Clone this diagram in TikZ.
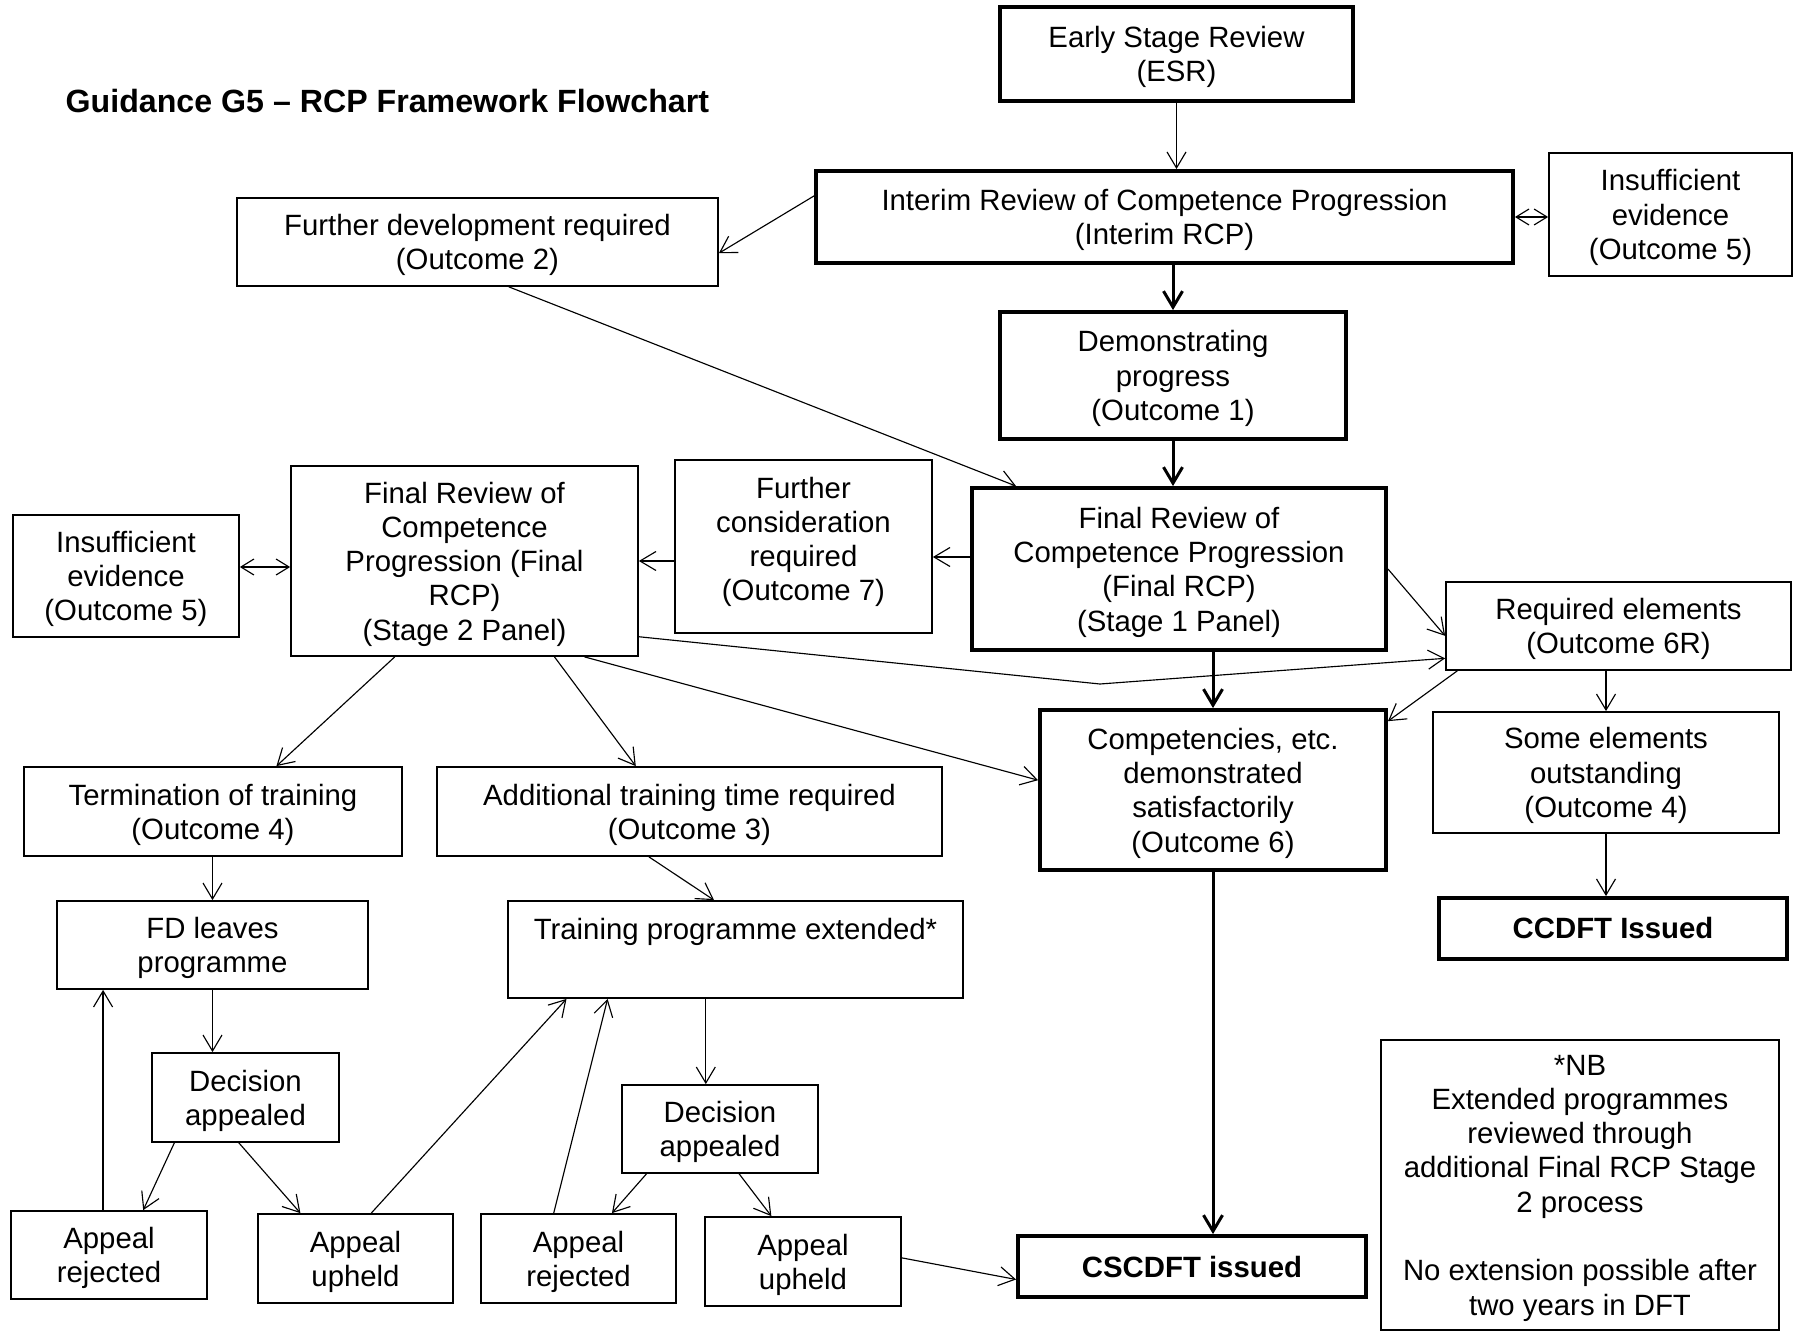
\documentclass[tikz,border=0pt]{standalone}
\usepackage{fontspec}
\setmainfont{Liberation Sans}
\usetikzlibrary{arrows.meta,calc}
\newcommand{\flowfont}{\fontsize{16.7}{19.5}\selectfont}
\tikzset{
  plain/.style={draw=black, line width=1pt, inner sep=0pt,
                align=center, font=\flowfont},
  box/.style={plain, text depth=-0.8pt},
  keybox/.style={box, line width=2.2pt},
  issued/.style={plain, line width=2.2pt, font=\flowfont\bfseries},
  flow/.style={-{Straight Barb[length=3.2mm,width=3.8mm]}, line width=0.65pt},
  mainflow/.style={flow, line width=1.7pt},
  both/.style={{Straight Barb[length=2.6mm,width=3.2mm]}-{Straight Barb[length=2.6mm,width=3.2mm]},
               line width=0.65pt},
}

\begin{document}
\begin{tikzpicture}
  \path[use as bounding box] (0,0) rectangle (35.88,-26.62);

  \node[font=\fontsize{18.3}{21}\selectfont\bfseries, anchor=west] (title) at (1.19,-2.02)
    {Guidance G5 -- RCP Framework Flowchart};

  \node[keybox, minimum width=7.06cm, minimum height=1.88cm] (esr) at (23.53,-1.08)
    {Early Stage Review\\(ESR)};
  \node[keybox, minimum width=13.94cm, minimum height=1.84cm] (irp) at (23.29,-4.34)
    {Interim Review of Competence Progression\\(Interim RCP)};
  \node[box, minimum width=4.86cm, minimum height=2.46cm] (ins1) at (33.41,-4.29)
    {Insufficient\\evidence\\(Outcome 5)};
  \node[box, minimum width=9.62cm, minimum height=1.76cm] (fdr) at (9.55,-4.84)
    {Further development required\\(Outcome 2)};
  \node[keybox, minimum width=6.92cm, minimum height=2.54cm] (dem) at (23.46,-7.51)
    {Demonstrating\\progress\\(Outcome 1)};
  \node[keybox, minimum width=8.28cm, minimum height=3.24cm] (fr1) at (23.58,-11.38)
    {Final Review of\\Competence Progression\\(Final RCP)\\(Stage 1 Panel)};
  \node[box, minimum width=5.14cm, minimum height=3.46cm, text depth=8.7pt] (fcr) at (16.07,-10.93)
    {Further\\consideration\\required\\(Outcome 7)};
  \node[box, minimum width=6.94cm, minimum height=3.80cm] (fr2) at (9.29,-11.22)
    {Final Review of\\Competence\\Progression (Final\\RCP)\\(Stage 2 Panel)};
  \node[box, minimum width=4.52cm, minimum height=2.44cm] (ins2) at (2.52,-11.52)
    {Insufficient\\evidence\\(Outcome 5)};
  \node[box, minimum width=7.56cm, minimum height=1.78cm] (term) at (4.26,-16.23)
    {Termination of training\\(Outcome 4)};
  \node[box, minimum width=10.10cm, minimum height=1.78cm] (add) at (13.79,-16.23)
    {Additional training time required\\(Outcome 3)};
  \node[box, minimum width=6.90cm, minimum height=1.76cm] (req) at (32.37,-12.52)
    {Required elements\\(Outcome 6R)};
  \node[keybox, minimum width=6.92cm, minimum height=3.20cm] (comp) at (24.26,-15.80)
    {Competencies, etc.\\demonstrated\\satisfactorily\\(Outcome 6)};
  \node[box, minimum width=6.92cm, minimum height=2.42cm] (some) at (32.12,-15.45)
    {Some elements\\outstanding\\(Outcome 4)};
  \node[issued, minimum width=6.96cm, minimum height=1.22cm] (ccdft) at (32.26,-18.57)
    {CCDFT Issued};
  \node[issued, minimum width=6.96cm, minimum height=1.22cm] (cscdft) at (23.84,-25.33)
    {CSCDFT issued};
  \node[box, minimum width=7.96cm, minimum height=5.80cm] (nb) at (31.60,-23.70)
    {*NB\\Extended programmes\\reviewed through\\additional Final RCP Stage\\2 process\\[19.5pt]No extension possible after\\two years in DFT};

  \node[box, minimum width=6.22cm, minimum height=1.76cm] (fdl) at (4.25,-18.90)
    {FD leaves\\programme};
  \node[box, minimum width=9.10cm, minimum height=1.94cm, text depth=0pt] (tpe) at (14.71,-18.99)
    {Training programme extended*\\[4.5pt]\mbox{}};
  \node[box, minimum width=3.74cm, minimum height=1.78cm] (dal) at (4.91,-21.95)
    {Decision\\appealed};
  \node[box, minimum width=3.92cm, minimum height=1.76cm] (dar) at (14.40,-22.58)
    {Decision\\appealed};
  \node[box, minimum width=3.92cm, minimum height=1.76cm] (arl) at (2.18,-25.10)
    {Appeal\\rejected};
  \node[box, minimum width=3.90cm, minimum height=1.78cm] (aul) at (7.11,-25.17)
    {Appeal\\upheld};
  \node[box, minimum width=3.90cm, minimum height=1.78cm] (arm) at (11.57,-25.17)
    {Appeal\\rejected};
  \node[box, minimum width=3.92cm, minimum height=1.78cm] (aur) at (16.06,-25.23)
    {Appeal\\upheld};

  \coordinate (kink) at (22.0,-13.68);
  \coordinate (arlup) at ($(arl.north west)!0.47!(arl.north east)$);
  \coordinate (tpedown) at ($(tpe.south west)!0.435!(tpe.south east)$);

  \draw[flow] (esr.south) -- (esr.south |- irp.north);
  \draw[mainflow] (dem.north |- irp.south) -- (dem.north);
  \draw[both] (irp.east) -- (ins1.west |- irp.east);
  \draw[flow] ($(irp.north west)!0.28!(irp.south west)$) -- ($(fdr.north east)!0.625!(fdr.south east)$);
  \draw[flow] ($(fdr.south west)!0.565!(fdr.south east)$) -- ($(fr1.north west)!0.11!(fr1.north east)$);
  \draw[mainflow] (dem.south) -- (dem.south |- fr1.north);
  \draw[flow] ($(fr1.west |- fcr.east)+(0,-0.21)$) -- ($(fcr.east)+(0,-0.21)$);
  \draw[flow] (fcr.west |- fr2.east) -- (fr2.east);
  \draw[both] ($(ins2.east)+(0,0.18)$) -- ($(fr2.west |- ins2.east)+(0,0.18)$);
  \draw[flow] ($(fr2.south west)!0.30!(fr2.south east)$) -- ($(term.north west)!0.667!(term.north east)$);
  \draw[flow] ($(fr2.south west)!0.758!(fr2.south east)$) -- ($(add.north west)!0.394!(add.north east)$);
  \draw[flow] ($(fr2.south west)!0.844!(fr2.south east)$) -- ($(comp.north west)!0.44!(comp.south west)$);
  \draw[flow] ($(fr2.north east)!0.895!(fr2.south east)$) -- (kink) -- ($(req.north west)!0.86!(req.south west)$);
  \draw[mainflow] (comp.north |- fr1.south) -- (comp.north);
  \draw[flow] (fr1.east) -- ($(req.north west)!0.61!(req.south west)$);
  \draw[flow] ($(req.south west)!0.035!(req.south east)$) -- ($(comp.north east)!0.08!(comp.south east)$);
  \draw[flow] (some.north |- req.south) -- (some.north);
  \draw[flow] (some.south) -- (some.south |- ccdft.north);
  \draw[mainflow] (comp.south) -- (comp.south |- cscdft.north);

  \draw[flow] (fdl.north |- term.south) -- (fdl.north);
  \draw[flow] ($(add.south west)!0.42!(add.south east)$) -- ($(tpe.north west)!0.453!(tpe.north east)$);
  \draw[flow] (fdl.south) -- (fdl.south |- dal.north);
  \draw[flow] ($(dal.south west)!0.123!(dal.south east)$) -- ($(arl.north west)!0.673!(arl.north east)$);
  \draw[flow] ($(dal.south west)!0.465!(dal.south east)$) -- ($(aul.north west)!0.22!(aul.north east)$);
  \draw[flow] (arlup) -- (arlup |- fdl.south);
  \draw[flow] ($(aul.north west)!0.58!(aul.north east)$) -- ($(tpe.south west)!0.13!(tpe.south east)$);
  \draw[flow] ($(arm.north west)!0.374!(arm.north east)$) -- ($(tpe.south west)!0.22!(tpe.south east)$);
  \draw[flow] (tpedown) -- (tpedown |- dar.north);
  \draw[flow] ($(dar.south west)!0.128!(dar.south east)$) -- ($(arm.north west)!0.67!(arm.north east)$);
  \draw[flow] ($(dar.south west)!0.597!(dar.south east)$) -- ($(aur.north west)!0.34!(aur.north east)$);
  \draw[flow] ($(aur.north east)!0.46!(aur.south east)$) -- ($(cscdft.north west)!0.70!(cscdft.south west)$);
\end{tikzpicture}
\end{document}
